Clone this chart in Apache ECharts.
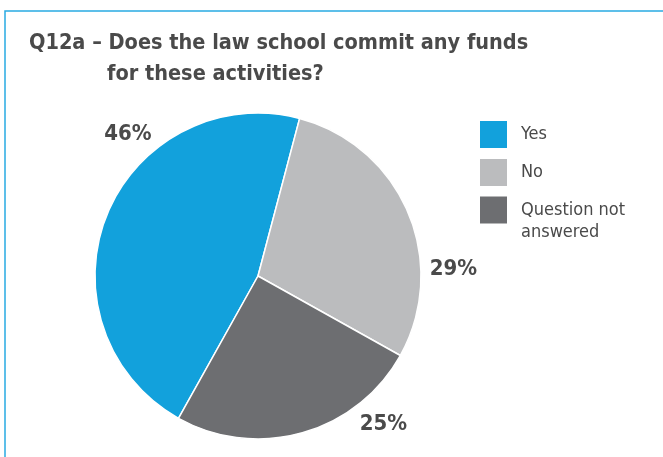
<!DOCTYPE html>
<html>
<head>
<meta charset="utf-8">
<script src="https://cdn.jsdelivr.net/npm/echarts@6/dist/echarts.min.js"></script>
<style>
  html, body { margin: 0; padding: 0; background: #ffffff; }
  #chart { width: 663px; height: 457px; }
</style>
</head>
<body>
<div id="chart"></div>
<script>
// Survey answers (percent of respondents)
const categories = ['Yes', 'No', 'Question not answered'];
const shares = [46, 29, 25];
const sliceColors = ['#12a1dc', '#bbbcbe', '#6d6e71'];

// Where each percentage label sits around the pie
const labelSpots = [[128, 134], [453.5, 269.5], [383.5, 424]];

const chart = echarts.init(document.getElementById('chart'), null, { renderer: 'canvas' });

const textColor = '#4a4a4a';
const fontFamily = '"DejaVu Sans Condensed", sans-serif';

// One legend block per answer so the wrapped entry keeps the same spacing.
// The wrapped entry gets a leading blank line so its first line sits beside the swatch.
const legendTops = [114, 152, 171];
const legends = categories.map((name, i) => ({
  orient: 'vertical',
  left: 473, top: legendTops[i],
  itemWidth: 29, itemHeight: 29,
  icon: 'rect',
  selectedMode: false,
  textStyle: {
    color: textColor, fontFamily: fontFamily, fontSize: 18, lineHeight: 22,
    padding: [0, 0, 2, 8]
  },
  data: [name],
  formatter: n => n === 'Question not answered' ? '\nQuestion not\nanswered' : n
}));

chart.setOption({
  backgroundColor: '#ffffff',
  animation: false,
  title: [
    {
      text: 'Q12a – Does the law school commit any funds',
      left: 24, top: 27,
      textStyle: { color: textColor, fontFamily: fontFamily, fontWeight: 'bold', fontSize: 21.5 }
    },
    {
      text: 'for these activities?',
      left: 102, top: 58,
      textStyle: { color: textColor, fontFamily: fontFamily, fontWeight: 'bold', fontSize: 21.5 }
    }
  ],
  graphic: [
    {
      type: 'polyline',
      shape: { points: [[5, 470], [5, 11], [680, 11]] },
      style: { stroke: '#29abe2', lineWidth: 1.5, fill: null }
    }
  ],
  legend: legends,
  series: [
    {
      type: 'pie',
      center: [258, 276],
      radius: [0, 163],
      startAngle: 240.8,
      clockwise: true,
      color: sliceColors,
      itemStyle: { borderColor: '#ffffff', borderWidth: 1.5 },
      label: {
        show: true,
        position: 'outside',
        overflow: 'none',
        formatter: p => p.value + '%',
        color: textColor,
        fontFamily: fontFamily,
        fontWeight: 'bold',
        fontSize: 22
      },
      labelLine: { show: false },
      labelLayout: params => ({
        x: labelSpots[params.dataIndex][0],
        y: labelSpots[params.dataIndex][1],
        align: 'center',
        verticalAlign: 'middle'
      }),
      emphasis: { disabled: true },
      data: categories.map((name, i) => ({ name: name, value: shares[i] }))
    }
  ]
});
</script>
</body>
</html>
